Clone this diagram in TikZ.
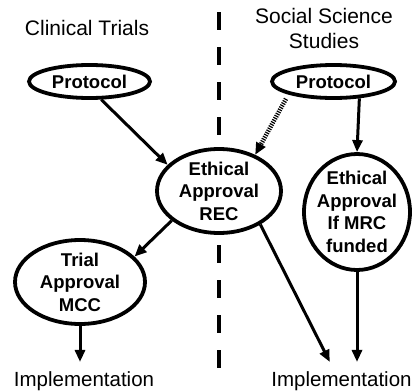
\documentclass[tikz,border=0pt]{standalone}
\usepackage{fontspec}
\setmainfont{Liberation Sans}
\usetikzlibrary{shapes.geometric,arrows.meta}
\tikzset{
  oval/.style={draw,ellipse,line width=3.8pt,inner xsep=-8pt,inner ysep=-4pt,
    align=center,font=\fontsize{18.5}{22.5}\selectfont\bfseries},
  heading/.style={align=center,font=\fontsize{21}{25}\selectfont},
  outcome/.style={anchor=base,inner xsep=0pt,inner ysep=9pt,font=\fontsize{20.5}{25}\selectfont},
  divider/.style={line width=4pt,dash pattern=on 18pt off 17pt},
  flow/.style={-{Triangle[length=12pt,width=10pt]},line width=3pt},
  maybe/.style={dash pattern=on 1.2pt off 1.2pt,line width=4.5pt,shorten <=5pt}
}
\begin{document}
\begin{tikzpicture}[x=1pt,y=-1pt]
      \useasboundingbox (0,0) rectangle (418,391);
      \draw[divider] (219,12) -- (219,140) (219,245) -- (219,372);
      \draw
        (87,28) node[heading] (ct){Clinical Trials}
        (324,28) node[heading] (ss){Social Science\\Studies}
        (89.5,81.5) node[oval,minimum width=121pt,minimum height=33pt] (lp){Protocol}
        (333.5,81.5) node[oval,minimum width=123pt,minimum height=33pt] (rp){Protocol}
        (219,191) node[oval,minimum width=124pt,minimum height=84pt] (rec){Ethical\\Approval\\REC}
        (80,282) node[oval,minimum width=130pt,minimum height=84pt] (mcc){Trial\\Approval\\MCC}
        (357,212) node[oval,minimum width=106pt,minimum height=116pt] (mrc){Ethical\\Approval\\If MRC\\funded}
        (84,386) node[outcome] (impl){Implementation}
        (341.5,386) node[outcome] (impr){Implementation};
      \begin{scope}[flow]
        \draw (lp.-57) to (rec.153);
        \draw[maybe] (rp.196) to (rec.45);
        \draw (rp.-33) to (mrc.north);
        \draw (rec.212) to (mcc.25);
        \draw (rec.-39) to (impr.122);
        \draw (mcc.south) to (mcc.south |- impl.north);
        \draw (mrc.south) to (mrc.south |- impr.north);
      \end{scope}
    \end{tikzpicture}
\end{document}
